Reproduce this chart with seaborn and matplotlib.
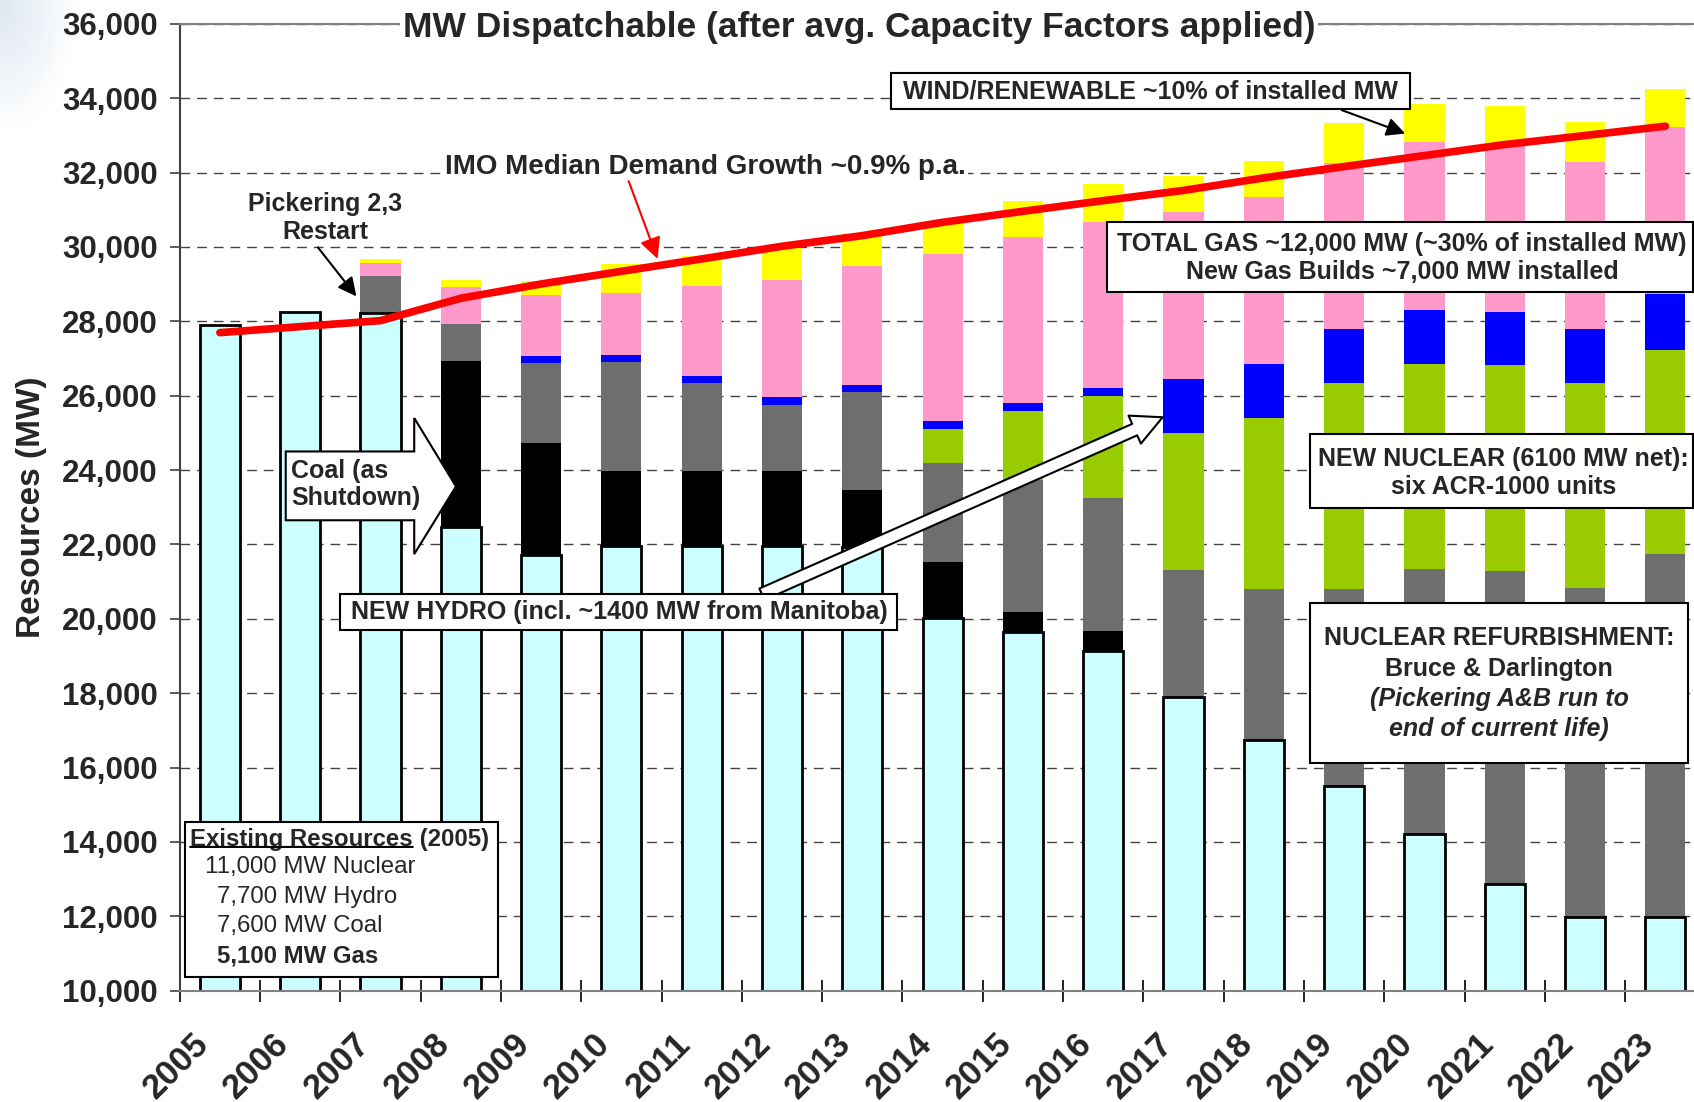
import numpy as np
import pandas as pd
import seaborn as sns
import matplotlib.pyplot as plt
from matplotlib.patches import Polygon, Rectangle
from matplotlib.transforms import ScaledTranslation
from matplotlib.colors import LinearSegmentedColormap

# MW dispatchable per year, one list per stack segment (bottom -> top)
years = ["2005", "2006", "2007", "2008", "2009", "2010", "2011", "2012", "2013", "2014",
         "2015", "2016", "2017", "2018", "2019", "2020", "2021", "2022", "2023"]
existing = [27900, 28260, 28220, 22470, 21720, 21960, 21960, 21960, 21940, 20020,
            19640, 19140, 17890, 16740, 15500, 14210, 12860, 11970, 11970]
coal = [0, 0, 0, 4470, 3000, 2010, 2010, 2010, 1520, 1500,
        540, 530, 0, 0, 0, 0, 0, 0, 0]
refurb = [0, 0, 1010, 1000, 2150, 2940, 2360, 1770, 2630, 2660,
          3550, 3580, 3430, 4070, 5310, 7140, 8430, 8870, 9770]
new_nuclear = [0, 0, 0, 0, 0, 0, 0, 0, 0, 920,
               1850, 2730, 3680, 4580, 5520, 5490, 5530, 5510, 5500]
new_hydro = [0, 0, 0, 0, 210, 190, 210, 220, 210, 210,
             210, 240, 1440, 1470, 1450, 1470, 1440, 1440, 1490]
gas = [0, 0, 330, 990, 1640, 1670, 2400, 3160, 3180, 4510,
       4490, 4460, 4490, 4490, 4490, 4500, 4490, 4500, 4490]
wind = [0, 0, 110, 190, 370, 760, 820, 850, 870, 890,
        960, 1000, 990, 970, 1050, 1040, 1050, 1070, 1040]
demand = [27695, 27857, 28018, 28619, 29004, 29345, 29677, 30018, 30304, 30662,
          30958, 31245, 31520, 31857, 32161, 32457, 32753, 32996, 33247]

names = ["existing", "coal", "refurb", "new_nuclear", "new_hydro", "gas", "wind"]
colours = ["#CCFFFF", "#000000", "#6E6E6E", "#99CC00", "#0000FF", "#FF99CC", "#FFFF00"]

df = pd.DataFrame({"year": years, "existing": existing, "coal": coal, "refurb": refurb,
                   "new_nuclear": new_nuclear, "new_hydro": new_hydro, "gas": gas, "wind": wind})
cum = df[names].cumsum(axis=1)

sns.set_style("white")
plt.rcParams["font.family"] = ["Liberation Sans", "DejaVu Sans"]

fig = plt.figure(figsize=(16.94, 11.02), dpi=100)

# faint slide background glow in the top-left corner
bg = fig.add_axes([0, 0, 1, 1], zorder=-1)
gy, gx = np.mgrid[0:1:200j, 0:1:300j]
glow = np.clip(1 - np.hypot(gx / 0.045, gy / 0.12), 0, 1)
bg.imshow(glow, cmap=LinearSegmentedColormap.from_list("g", ["white", "#dde7f0"]),
          extent=[0, 1, 0, 1], origin="upper", aspect="auto")
bg.axis("off")

ax = fig.add_axes([0.1061, 0.101, 0.9007, 0.8774])
ax.patch.set_alpha(0)

# stacked bars: draw the cumulative totals from the top layer down
for name, colour in reversed(list(zip(names, colours))):
    is_base = name == "existing"
    sns.barplot(x=df["year"], y=cum[name], color=colour, width=0.5, saturation=1,
                edgecolor="black" if is_base else "none", linewidth=2 if is_base else 0,
                errorbar=None, ax=ax, zorder=2)

# demand line
sns.lineplot(x=np.arange(len(years)), y=demand, color="red", lw=5.5, ax=ax, zorder=5,
             solid_capstyle="round")

ax.set_xlim(-0.5, len(years) - 0.5)
ax.set_ylim(10000, 36000)
ax.set_xlabel("")
ax.set_ylabel("Resources (MW)", fontsize=24, fontweight="bold")
ax.yaxis.set_label_coords(-0.087, 0.5)

# axes cosmetics
y_ticks = [10000, 12000, 14000, 16000, 18000, 20000, 22000, 24000, 26000, 28000, 30000, 32000, 34000, 36000]
ax.set_yticks(y_ticks)
ax.set_yticklabels([f"{v:,}" for v in y_ticks], fontsize=22.5, fontweight="bold")
ax.tick_params(axis="y", length=7, width=1.2, color="#404040", pad=9, direction="out", left=True)

ax.set_xticks(range(len(years)))
ax.set_xticklabels(years, rotation=45, ha="right", va="top", rotation_mode="anchor",
                   fontsize=25, fontweight="bold")
ax.set_xticks(np.arange(-0.5, len(years)), minor=True)
ax.tick_params(axis="x", which="major", length=0, pad=26)
ax.tick_params(axis="x", which="minor", length=16, width=1.2, direction="inout",
               color="black", bottom=True)
# nudge the rotated year labels left, after tick_params (which resets transforms)
shift = ScaledTranslation(-28 / 100, 0, fig.dpi_scale_trans)
for lab in ax.get_xticklabels():
    lab.set_transform(lab.get_transform() + shift)

ax.yaxis.grid(True, linestyle=(0, (7, 5)), color="#444444", lw=1)
ax.set_axisbelow(True)
for side in ["left", "bottom", "top"]:
    ax.spines[side].set_visible(True)
ax.spines["left"].set_color("#404040")
ax.spines["left"].set_linewidth(1.5)
ax.spines["bottom"].set_color("#808080")
ax.spines["bottom"].set_linewidth(1.5)
ax.spines["top"].set_color("#808080")
ax.spines["top"].set_linewidth(1.5)
ax.spines["right"].set_visible(False)

bold = dict(fontsize=18, fontweight="bold", zorder=8)

ax.text(7.96, 35900, "MW Dispatchable (after avg. Capacity Factors applied)", ha="center",
        va="center", fontsize=25.5, fontweight="bold", zorder=8, clip_on=False,
        bbox=dict(fc="white", ec="none", pad=2))

# demand annotation
ax.text(6.04, 32140, "IMO Median Demand Growth ~0.9% p.a.", ha="center", va="center",
        fontsize=20, fontweight="bold", zorder=8, bbox=dict(fc="white", ec="none", pad=2))
ax.annotate("", xy=(5.45, 29680), xytext=(5.09, 31770),
            arrowprops=dict(arrowstyle="-|>", color="red", lw=1.5, mutation_scale=32,
                            shrinkA=0, shrinkB=0), zorder=8)

# Pickering
ax.text(1.31, 30780, "Pickering 2,3\nRestart", ha="center", va="center", linespacing=1.2, **bold)
ax.annotate("", xy=(1.70, 28670), xytext=(1.22, 29990),
            arrowprops=dict(arrowstyle="-|>", color="black", lw=1.5, mutation_scale=28,
                            shrinkA=0, shrinkB=0), zorder=8)

# wind
ax.add_patch(Rectangle((8.36, 33700), 6.46, 985, fc="white", ec="black", lw=1.5, zorder=7))
ax.text(11.59, 34190, "WIND/RENEWABLE ~10% of installed MW", ha="center", va="center", **bold)
ax.annotate("", xy=(14.76, 33050), xytext=(13.97, 33680),
            arrowprops=dict(arrowstyle="-|>", color="black", lw=1.5, mutation_scale=28,
                            shrinkA=0, shrinkB=0), zorder=8)

# gas
ax.add_patch(Rectangle((11.05, 28790), 7.29, 1887, fc="white", ec="black", lw=1.5, zorder=7))
ax.text(14.72, 29710, "TOTAL GAS ~12,000 MW (~30% of installed MW)\nNew Gas Builds ~7,000 MW installed",
        ha="center", va="center", linespacing=1.2, **bold)

# new nuclear
ax.add_patch(Rectangle((13.57, 22981), 4.77, 1984, fc="white", ec="black", lw=1.5, zorder=7))
ax.text(15.98, 23917, "NEW NUCLEAR (6100 MW net):\nsix ACR-1000 units",
        ha="center", va="center", linespacing=1.2, **bold)

# refurbishment
ax.add_patch(Rectangle((13.57, 16121), 4.71, 4301, fc="white", ec="black", lw=1.5, zorder=7))
ax.text(15.93, 19497, "NUCLEAR REFURBISHMENT:", ha="center", va="center", **bold)
ax.text(15.93, 18653, "Bruce & Darlington", ha="center", va="center", **bold)
ax.text(15.93, 17841, "(Pickering A&B run to", ha="center", va="center", style="italic", **bold)
ax.text(15.93, 17027, "end of current life)", ha="center", va="center", style="italic", **bold)

# coal block arrow
ax.add_patch(Polygon([(0.82, 24500), (2.42, 24500), (2.42, 25400), (2.94, 23560),
                      (2.42, 21740), (2.42, 22650), (0.82, 22650)],
                     closed=True, fc="white", ec="black", lw=1.5, zorder=7))
ax.text(0.89, 23610, "Coal (as\nShutdown)", ha="left", va="center", linespacing=1.2, **bold)

# new hydro
ax.annotate("", xy=(11.74, 25420), xytext=(6.75, 20660),
            arrowprops=dict(arrowstyle="simple,head_length=1.1,head_width=1.1,tail_width=0.45",
                            fc="white", ec="black", lw=1.5, mutation_scale=20,
                            shrinkA=0, shrinkB=0), zorder=7)
ax.add_patch(Rectangle((1.50, 19696), 6.93, 968, fc="white", ec="black", lw=1.5, zorder=7))
ax.text(4.97, 20180, "NEW HYDRO (incl. ~1400 MW from Manitoba)", ha="center", va="center", **bold)

# existing resources box
ax.add_patch(Rectangle((-0.43, 10376), 3.89, 4159, fc="white", ec="black", lw=1.5, zorder=7))
small = dict(fontsize=17.3, va="center", ha="left", zorder=8)
t1 = ax.text(-0.37, 14070, "Existing Resources", fontweight="bold", **small)
ax.annotate(" (2005)", xy=(1, 0.5), xycoords=t1, va="center", ha="left",
            fontsize=17.3, fontweight="bold", zorder=8)
ax.annotate("", xy=(0, 0.17), xycoords=t1, xytext=(1, 0.17), textcoords=t1,
            arrowprops=dict(arrowstyle="-", color="black", lw=1.5, shrinkA=0, shrinkB=0), zorder=8)
ax.text(-0.19, 13317, "11,000 MW Nuclear", **small)
ax.text(-0.04, 12527, "7,700 MW Hydro", **small)
ax.text(-0.04, 11739, "7,600 MW Coal", **small)
ax.text(-0.04, 10933, "5,100 MW Gas", fontweight="bold", **small)

fig.savefig("out.png", dpi=100)
